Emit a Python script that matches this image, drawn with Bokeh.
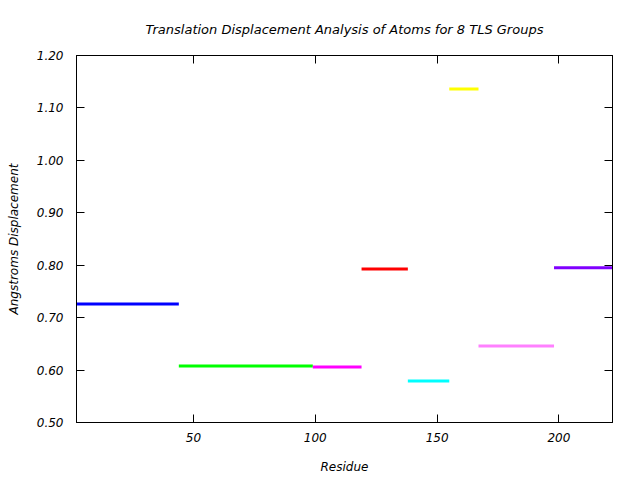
from bokeh.plotting import figure
from bokeh.models import LinearAxis, FixedTicker, Range1d, Title, CustomJSTickFormatter
from bokeh.embed import file_html
from bokeh.resources import INLINE

# TLS group residue boundaries and translation displacement
group_start = [2, 44, 99, 119, 138, 155, 167, 198]
group_end = [44, 99, 119, 138, 155, 167, 198, 222]
displacement = [0.726, 0.608, 0.606, 0.793, 0.579, 1.136, 0.646, 0.795]
group_colors = ["#0000ff", "#00ff00", "#ff00ff", "#ff0000",
                "#00ffff", "#ffff00", "#ff80ff", "#8000ff"]

x_ticks = [50, 100, 150, 200]
y_ticks = [0.5, 0.6, 0.7, 0.8, 0.9, 1.0, 1.1, 1.2]

FONT = "DejaVu Sans"

p = figure(width=640, height=480, output_backend="svg", toolbar_location=None,
           x_range=Range1d(2, 222), y_range=Range1d(0.5, 1.2),
           min_border_left=76, min_border_right=28, min_border_top=55,
           min_border_bottom=58, title=None)
p.background_fill_color = "white"
p.border_fill_color = "white"
p.grid.visible = False
p.outline_line_color = "black"
p.outline_line_width = 1

p.segment(x0=group_start, x1=group_end, y0=displacement, y1=displacement,
          line_color=group_colors, line_width=3)

def style_axis(ax, ticks):
    ax.ticker = FixedTicker(ticks=ticks)
    ax.major_tick_in = 8
    ax.major_tick_out = 0
    ax.minor_tick_in = 0
    ax.minor_tick_out = 0
    ax.axis_line_color = "black"
    ax.major_tick_line_color = "black"
    ax.major_label_text_font = FONT
    ax.major_label_text_font_style = "italic"
    ax.major_label_text_font_size = "12px"
    ax.major_label_text_color = "black"
    ax.axis_label_text_font = FONT
    ax.axis_label_text_font_style = "italic"
    ax.axis_label_text_font_size = "12px"
    ax.axis_label_text_color = "black"

xa = p.xaxis[0]
style_axis(xa, x_ticks)
xa.major_label_standoff = 10
xa.axis_label = "Residue"
xa.axis_label_standoff = 15

ya = p.yaxis[0]
style_axis(ya, y_ticks)
ya.major_label_standoff = 13
ya.axis_label = "Angstroms Displacement"
ya.axis_label_standoff = 13
ya.formatter = CustomJSTickFormatter(code="return tick.toFixed(2);")

top = LinearAxis(formatter=CustomJSTickFormatter(code="return '';"))
style_axis(top, x_ticks)
top.major_label_standoff = 0
p.add_layout(top, "above")
right = LinearAxis(formatter=CustomJSTickFormatter(code="return '';"))
style_axis(right, y_ticks)
right.major_label_standoff = 0
p.add_layout(right, "right")

p.add_layout(Title(text="Translation Displacement Analysis of Atoms for 8 TLS Groups",
                   align="center", text_font=FONT, text_font_style="italic",
                   text_font_size="13px", text_color="black", standoff=38),
             "above")

open("out.html", "w").write(file_html(p, INLINE))
